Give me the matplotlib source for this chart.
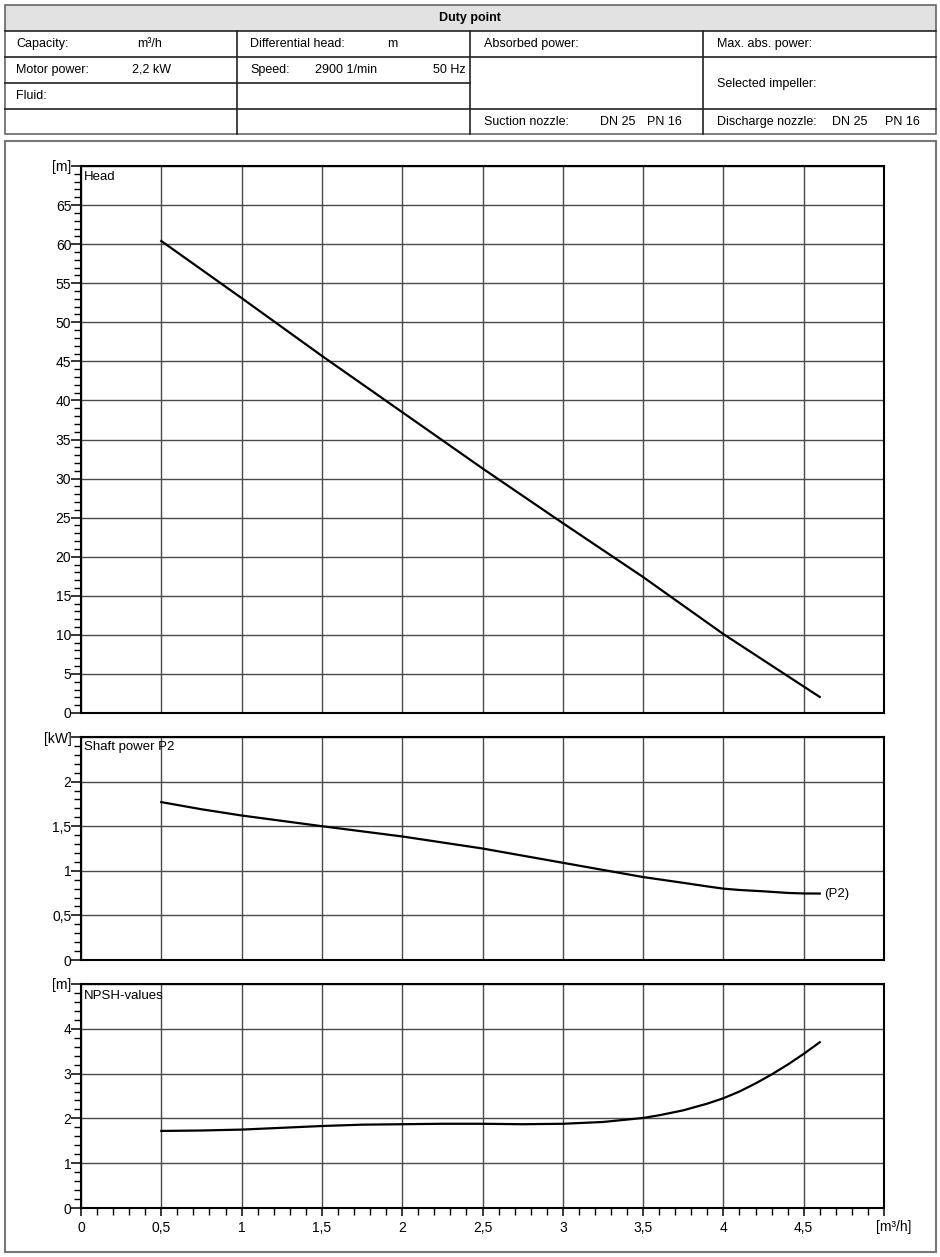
import matplotlib.pyplot as plt
import matplotlib.transforms as mtransforms
from matplotlib.patches import Rectangle
from matplotlib.ticker import MultipleLocator

W, H = 940, 1257
plt.rcParams["font.family"] = ["Liberation Sans", "DejaVu Sans"]
plt.rcParams["font.size"] = 9

# flow axis
flow_ticks = [0, 0.5, 1, 1.5, 2, 2.5, 3, 3.5, 4, 4.5, 5]
flow_labels = ["0", "0,5", "1", "1,5", "2", "2,5", "3", "3,5", "4", "4,5", "[m³/h]"]

# head curve
head_q = [0.5, 1.0, 1.5, 2.0, 2.5, 3.0, 3.5, 4.0, 4.6]
head_h = [60.4, 53.1, 45.7, 38.5, 31.3, 24.3, 17.4, 10.1, 2.05]
head_ticks = [0, 5, 10, 15, 20, 25, 30, 35, 40, 45, 50, 55, 60, 65, 70]
head_labels = ["0", "5", "10", "15", "20", "25", "30", "35", "40", "45",
               "50", "55", "60", "65", "[m]"]

# shaft power P2
power_q = [0.5, 0.75, 1.0, 1.25, 1.5, 2.0, 2.5, 3.0, 3.25, 3.5, 3.75, 3.9, 4.0,
           4.1, 4.25, 4.4, 4.5, 4.6]
power_p = [1.77, 1.69, 1.62, 1.56, 1.50, 1.385, 1.25, 1.09, 1.01, 0.93, 0.865, 0.825,
           0.80, 0.785, 0.77, 0.752, 0.746, 0.745]
power_ticks = [0, 0.5, 1, 1.5, 2, 2.5]
power_labels = ["0", "0,5", "1", "1,5", "2", "[kW]"]

# NPSH values
npsh_q = [0.5, 0.75, 1.0, 1.25, 1.5, 1.75, 2.0, 2.25, 2.5, 2.75, 3.0, 3.25, 3.5,
          3.6, 3.75, 3.9, 4.0, 4.1, 4.2, 4.3, 4.4, 4.5, 4.6]
npsh_v = [1.72, 1.73, 1.75, 1.79, 1.83, 1.86, 1.87, 1.88, 1.88, 1.87, 1.88, 1.92, 2.01,
          2.07, 2.18, 2.33, 2.45, 2.60, 2.78, 2.98, 3.20, 3.44, 3.70]
npsh_ticks = [0, 1, 2, 3, 4, 5]
npsh_labels = ["0", "1", "2", "3", "4", "[m]"]

GRID = "#4a4a4a"
LINE = "#222222"


def add_px_axes(fig, left, top, right, bottom):
    return fig.add_axes([left / W, 1 - bottom / H, (right - left) / W, (bottom - top) / H])


def draw_header(bg):
    bg.add_patch(Rectangle((5, 5), 931, 26, facecolor="#e2e2e2", edgecolor="none"))
    bg.add_patch(Rectangle((5, 5), 931, 129, facecolor="none", edgecolor="#666666", lw=1.2))
    for y, x0, x1 in [(31, 5, 936), (57, 5, 936), (83, 5, 470), (109, 5, 936)]:
        bg.plot([x0, x1], [y, y], color=LINE, lw=1.2)
    for x in [237, 470, 703]:
        bg.plot([x, x], [31, 134], color=LINE, lw=1.2)

    bg.text(470, 18, "Duty point", ha="center", va="center", fontweight="bold")
    cells = [
        (16, 44, "Capacity:"), (137, 44, "m³/h"),
        (250, 44, "Differential head:"), (387, 44, "m"),
        (484, 44, "Absorbed power:"), (717, 44, "Max. abs. power:"),
        (16, 70, "Motor power:"), (132, 70, "2,2 kW"),
        (250, 70, "Speed:"), (315, 70, "2900 1/min"), (433, 70, "50 Hz"),
        (717, 84, "Selected impeller:"),
        (16, 96, "Fluid:"),
        (484, 122, "Suction nozzle:"), (600, 122, "DN 25"), (647, 122, "PN 16"),
        (717, 122, "Discharge nozzle:"), (832, 122, "DN 25"), (885, 122, "PN 16"),
    ]
    for x, y, s in cells:
        bg.text(x, y, s, ha="left", va="center")

    bg.add_patch(Rectangle((5, 141), 931, 1111, facecolor="none", edgecolor="#777777", lw=1.5))


def style_axes(ax, yticks, ylabels, minor_step, show_x):
    ax.set_xlim(0, 5)
    ax.set_ylim(yticks[0], yticks[-1])
    ax.set_xticks(flow_ticks)
    ax.xaxis.set_minor_locator(MultipleLocator(0.1))
    ax.set_yticks(yticks)
    ax.set_yticklabels(ylabels)
    ax.yaxis.set_minor_locator(MultipleLocator(minor_step))
    ax.grid(True, which="major", color=GRID, lw=1.0)
    for spine in ax.spines.values():
        spine.set_color("black")
        spine.set_linewidth(1.5)
    ax.tick_params(axis="y", which="major", length=7, width=1.1, pad=0, labelsize=10)
    ax.tick_params(axis="y", which="minor", length=5, width=1.0)
    if show_x:
        ax.set_xticklabels(flow_labels)
        ax.tick_params(axis="x", which="major", length=6, width=1.1, pad=3, labelsize=10)
        ax.tick_params(axis="x", which="minor", length=5, width=1.0)
        last = ax.get_xticklabels()[-1]
        last.set_transform(last.get_transform() + mtransforms.ScaledTranslation(
            0.10, 0, ax.figure.dpi_scale_trans))
    else:
        ax.tick_params(axis="x", which="both", length=0, labelbottom=False)


fig = plt.figure(figsize=(W / 100, H / 100), dpi=100)
bg = fig.add_axes([0, 0, 1, 1])
bg.set_xlim(0, W)
bg.set_ylim(H, 0)
bg.axis("off")
draw_header(bg)

ax_head = add_px_axes(fig, 81, 166, 884, 713)
ax_pow = add_px_axes(fig, 81, 737, 884, 960)
ax_npsh = add_px_axes(fig, 81, 984, 884, 1208)

style_axes(ax_head, head_ticks, head_labels, 1, False)
style_axes(ax_pow, power_ticks, power_labels, 0.1, False)
style_axes(ax_npsh, npsh_ticks, npsh_labels, 0.2, True)

ax_head.plot(head_q, head_h, color="black", lw=1.6, zorder=3)
ax_pow.plot(power_q, power_p, color="black", lw=1.6, zorder=3)
ax_npsh.plot(npsh_q, npsh_v, color="black", lw=1.6, zorder=3)

ax_pow.annotate("(P2)", xy=(power_q[-1], power_p[-1]), xytext=(4, 0),
                textcoords="offset pixels", ha="left", va="center", fontsize=9.5)

for ax, title, dy in [(ax_head, "Head", -11), (ax_pow, "Shaft power P2", -10),
                      (ax_npsh, "NPSH-values", -12)]:
    ax.annotate(title, xy=(0, 1), xycoords="axes fraction", xytext=(3, dy),
                textcoords="offset pixels", ha="left", va="center", fontsize=9.5,
                zorder=4)

fig.savefig("out.png", dpi=100)
